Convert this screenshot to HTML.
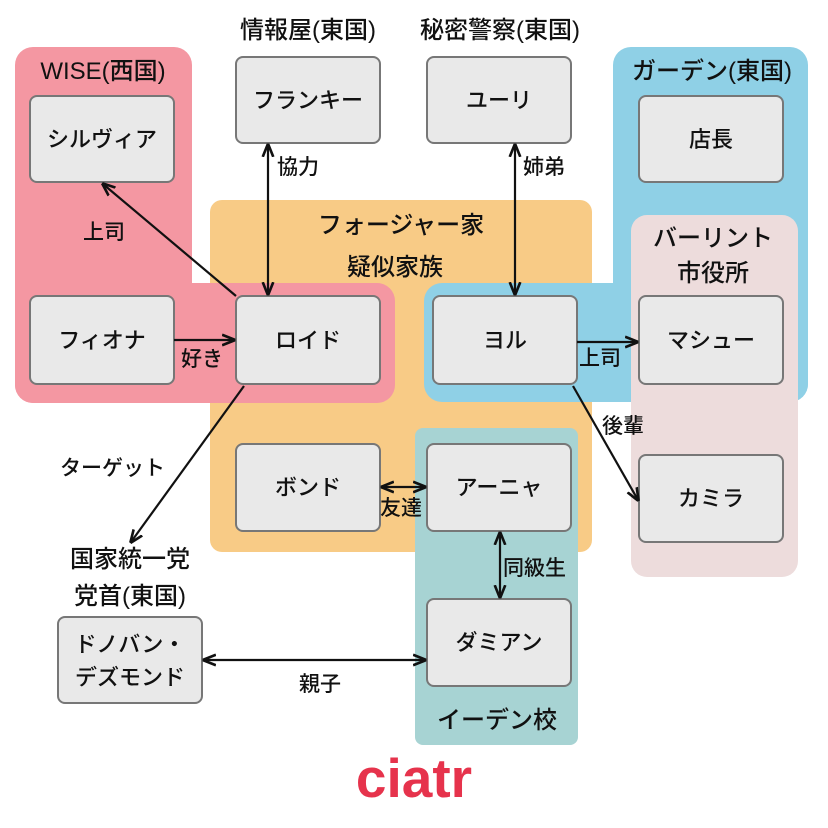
<!DOCTYPE html>
<html><head><meta charset="utf-8"><style>
html,body{margin:0;padding:0;background:#fff;}
svg{display:block;}
text{font-family:"Liberation Sans","Noto Sans CJK JP",sans-serif;fill:#111;}
</style></head><body>
<svg width="828" height="828" viewBox="0 0 828 828" xmlns="http://www.w3.org/2000/svg">
<defs>
<marker id="a" viewBox="0 0 10 10" refX="9" refY="5" markerWidth="6" markerHeight="6" orient="auto-start-reverse"><path d="M0,1 L10,5 L0,9" fill="none" stroke="#111" stroke-width="2"/></marker>
</defs>
<rect x="210" y="200" width="382" height="352" rx="12" fill="#f8cb86"/>
<rect x="15" y="47" width="177" height="356" rx="18" fill="#f497a2"/>
<rect x="15" y="283" width="380" height="120" rx="18" fill="#f497a2"/>
<rect x="613" y="47" width="195" height="355" rx="18" fill="#8fd0e6"/>
<rect x="424" y="283" width="384" height="119" rx="18" fill="#8fd0e6"/>
<rect x="631" y="215" width="167" height="362" rx="16" fill="#eddcdc"/>
<rect x="415" y="428" width="163" height="317" rx="8" fill="#a7d3d3"/>
<g fill="#e9e9e9" stroke="#777" stroke-width="2">
<rect x="30" y="96" width="144" height="86" rx="7"/>
<rect x="236" y="57" width="144" height="86" rx="7"/>
<rect x="427" y="57" width="144" height="86" rx="7"/>
<rect x="639" y="96" width="144" height="86" rx="7"/>
<rect x="30" y="296" width="144" height="88" rx="7"/>
<rect x="236" y="296" width="144" height="88" rx="7"/>
<rect x="433" y="296" width="144" height="88" rx="7"/>
<rect x="639" y="296" width="144" height="88" rx="7"/>
<rect x="236" y="444" width="144" height="87" rx="7"/>
<rect x="427" y="444" width="144" height="87" rx="7"/>
<rect x="639" y="455" width="144" height="87" rx="7"/>
<rect x="427" y="599" width="144" height="87" rx="7"/>
<rect x="58" y="617" width="144" height="86" rx="7"/>
</g>
<g font-size="22" text-anchor="middle" font-weight="500">
<text x="102" y="147">シルヴィア</text>
<text x="308" y="108">フランキー</text>
<text x="499" y="108">ユーリ</text>
<text x="711" y="147">店長</text>
<text x="102" y="348">フィオナ</text>
<text x="308" y="348">ロイド</text>
<text x="505" y="348">ヨル</text>
<text x="711" y="348">マシュー</text>
<text x="308" y="495">ボンド</text>
<text x="499" y="495">アーニャ</text>
<text x="711" y="506">カミラ</text>
<text x="499" y="650">ダミアン</text>
<text x="130" y="652">ドノバン・</text>
<text x="130" y="685">デズモンド</text>
</g>
<g font-size="24" text-anchor="middle" font-weight="500">
<text x="308" y="38">情報屋(東国)</text>
<text x="500" y="38">秘密警察(東国)</text>
<text x="103" y="79">WISE(西国)</text>
<text x="712" y="79">ガーデン(東国)</text>
<text x="401" y="233">フォージャー家</text>
<text x="395" y="275">疑似家族</text>
<text x="713" y="246">バーリント</text>
<text x="713" y="281">市役所</text>
<text x="497" y="728">イーデン校</text>
<text x="130" y="567">国家統一党</text>
<text x="130" y="604">党首(東国)</text>
</g>
<g stroke="#111" stroke-width="2.2" fill="none">
<line x1="236" y1="296" x2="103" y2="184" marker-end="url(#a)"/>
<line x1="268" y1="145" x2="268" y2="294" marker-start="url(#a)" marker-end="url(#a)"/>
<line x1="174" y1="340" x2="234" y2="340" marker-end="url(#a)"/>
<line x1="515" y1="145" x2="515" y2="294" marker-start="url(#a)" marker-end="url(#a)"/>
<line x1="577" y1="342" x2="637" y2="342" marker-end="url(#a)"/>
<line x1="573" y1="386" x2="638" y2="500" marker-end="url(#a)"/>
<line x1="244" y1="386" x2="131" y2="542" marker-end="url(#a)"/>
<line x1="382" y1="487" x2="425" y2="487" marker-start="url(#a)" marker-end="url(#a)"/>
<line x1="500" y1="533" x2="500" y2="597" marker-start="url(#a)" marker-end="url(#a)"/>
<line x1="204" y1="660" x2="425" y2="660" marker-start="url(#a)" marker-end="url(#a)"/>
</g>
<g font-size="21" font-weight="500">
<text x="83" y="239">上司</text>
<text x="277" y="174">協力</text>
<text x="181" y="366">好き</text>
<text x="523" y="174">姉弟</text>
<text x="579" y="365">上司</text>
<text x="602" y="433">後輩</text>
<text x="60" y="475">ターゲット</text>
<text x="380" y="515">友達</text>
<text x="503" y="575">同級生</text>
<text x="299" y="691">親子</text>
</g>
<text x="414" y="797" text-anchor="middle" font-size="55" font-weight="bold" style="fill:#e6334c">ciatr</text>
</svg>
</body></html>
